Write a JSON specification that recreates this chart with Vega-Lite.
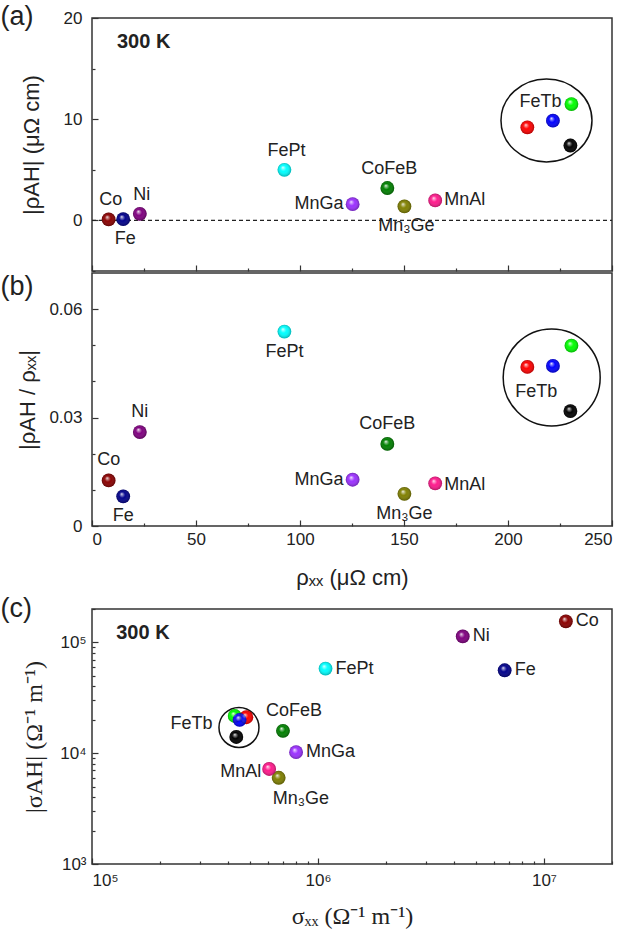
{
  "$schema": "https://vega.github.io/schema/vega-lite/v6.json",
  "background": "white",
  "padding": {"left": -1, "top": 2, "right": 5, "bottom": 5},
  "config": {
    "view": {"stroke": "#333", "strokeWidth": 1.5},
    "font": "Liberation Sans",
    "axis": {"domain": false, "grid": false, "labelFont": "Liberation Sans", "labelFontSize": 17, "labelColor": "#222", "tickColor": "#333", "tickWidth": 1.2, "titleFont": "Liberation Sans", "titleFontSize": 22, "titleFontWeight": "normal", "titleColor": "#222"},
    "text": {"font": "Liberation Sans", "fontSize": 18, "color": "#222"}
  },
  "datasets": {
    "mat": [
      {"name": "Co", "variant": "Co", "rxx": 8, "rah": 0.1, "ratio": 0.0126, "sxx": 12500000, "sah": 155000},
      {"name": "Fe", "variant": "Fe", "rxx": 15, "rah": 0.12, "ratio": 0.0082, "sxx": 6700000, "sah": 56000},
      {"name": "Ni", "variant": "Ni", "rxx": 23, "rah": 0.65, "ratio": 0.026, "sxx": 4370000, "sah": 113000},
      {"name": "FePt", "variant": "FePt", "rxx": 92.5, "rah": 5.0, "ratio": 0.0538, "sxx": 1080000, "sah": 58000},
      {"name": "MnGa", "variant": "MnGa", "rxx": 125.3, "rah": 1.6, "ratio": 0.0128, "sxx": 800000, "sah": 10200},
      {"name": "CoFeB", "variant": "CoFeB", "rxx": 142, "rah": 3.2, "ratio": 0.0227, "sxx": 700000, "sah": 15900},
      {"name": "Mn₃Ge", "variant": "Mn3Ge", "rxx": 150.2, "rah": 1.38, "ratio": 0.0089, "sxx": 670000, "sah": 6000},
      {"name": "MnAl", "variant": "MnAl", "rxx": 165, "rah": 1.97, "ratio": 0.0118, "sxx": 608000, "sah": 7200},
      {"name": "FeTb", "variant": "FeTb green", "rxx": 230.5, "rah": 11.5, "ratio": 0.0499, "sxx": 428000, "sah": 21700},
      {"name": "FeTb", "variant": "FeTb red", "rxx": 209.3, "rah": 9.2, "ratio": 0.044, "sxx": 482000, "sah": 21100},
      {"name": "FeTb", "variant": "FeTb blue", "rxx": 221.6, "rah": 9.85, "ratio": 0.0443, "sxx": 450000, "sah": 20000},
      {"name": "FeTb", "variant": "FeTb black", "rxx": 230, "rah": 7.4, "ratio": 0.0318, "sxx": 435000, "sah": 14000}
    ]
  },
  "spacing": 5,
  "vconcat": [
    {
      "bounds": "flush",
      "spacing": 2,
      "vconcat": [
        {
          "width": 520,
          "height": 253,
          "data": {"name": "mat"},
          "encoding": {
            "x": {"field": "rxx", "type": "quantitative", "scale": {"domain": [0, 250], "nice": false, "zero": false},
              "axis": {"values": [0, 25, 50, 75, 100, 125, 150, 175, 200, 225, 250], "labels": false, "title": null,
                "tickSize": {"condition": {"test": "datum.value % 50 === 0", "value": -6}, "value": -3}}},
            "y": {"field": "rah", "type": "quantitative", "scale": {"domain": [-5, 20], "nice": false, "zero": false},
              "axis": {"values": [-5, 0, 5, 10, 15, 20], "labelExpr": "datum.value % 10 === 0 ? datum.label : ''", "title": "|ρAH|  (μΩ cm)", "titlePadding": 20, "labelPadding": 16,
                "tickSize": {"condition": {"test": "datum.value % 10 === 0", "value": -6}, "value": -3}}}
          },
          "layer": [
            {"transform": [{"filter": "datum.variant === 'Co'"}], "mark": {"type": "rule", "strokeDash": [4, 3], "color": "#222", "strokeWidth": 1.2}, "encoding": {"x": {"datum": 0}, "x2": {"datum": 250}, "y": {"datum": 0}}},
            {"transform": [{"filter": "datum.variant === 'Co'"}], "mark": {"type": "point", "shape": "M-1,0A1,0.912,0,1,1,1,0A1,0.912,0,1,1,-1,0Z", "size": 8281, "filled": false, "stroke": "#111", "strokeWidth": 1.5, "opacity": 1},
              "encoding": {"x": {"datum": 218.5}, "y": {"datum": 9.88}}},
            {"mark": {"type": "point", "filled": true, "size": 190, "opacity": 1, "strokeWidth": 0},
              "encoding": {"color": {"field": "variant", "type": "nominal", "legend": null,
                "scale": {"domain": ["Co", "Fe", "Ni", "FePt", "MnGa", "CoFeB", "Mn3Ge", "MnAl", "FeTb green", "FeTb red", "FeTb blue", "FeTb black"],
                  "range": ["#8b0000", "#00008b", "#800080", "#00ffff", "#9b30ff", "#008000", "#808000", "#ff1a8c", "#00ff00", "#ff0000", "#0000ff", "#000000"]}}}},
            {"mark": {"type": "point", "filled": true, "size": 190, "opacity": 1, "strokeWidth": 0,
              "fill": {"gradient": "radial", "x1": 0.38, "y1": 0.32, "r1": 0, "x2": 0.5, "y2": 0.5, "r2": 0.5,
                "stops": [{"offset": 0, "color": "rgba(255,255,255,0.95)"}, {"offset": 0.18, "color": "rgba(255,255,255,0.5)"}, {"offset": 0.45, "color": "rgba(255,255,255,0)"}, {"offset": 1, "color": "rgba(0,0,0,0.3)"}]}}},
            {"transform": [{"filter": {"field": "name", "oneOf": ["Co", "Ni", "FePt", "CoFeB"]}}], "mark": {"type": "text", "align": "center", "baseline": "middle", "dy": -19, "dx": 2}, "encoding": {"text": {"field": "name"}}},
            {"transform": [{"filter": {"field": "name", "oneOf": ["Fe", "Mn₃Ge"]}}], "mark": {"type": "text", "align": "center", "baseline": "middle", "dy": 20, "dx": 2}, "encoding": {"text": {"field": "name"}}},
            {"transform": [{"filter": {"field": "name", "oneOf": ["MnGa"]}}], "mark": {"type": "text", "align": "right", "baseline": "middle", "dx": -9}, "encoding": {"text": {"field": "name"}}},
            {"transform": [{"filter": {"field": "name", "oneOf": ["MnAl"]}}], "mark": {"type": "text", "align": "left", "baseline": "middle", "dx": 9}, "encoding": {"text": {"field": "name"}}},
            {"transform": [{"filter": {"field": "variant", "equal": "FeTb green"}}], "mark": {"type": "text", "align": "right", "baseline": "middle", "dx": -10, "dy": -2}, "encoding": {"text": {"field": "name"}}},
            {"transform": [{"filter": "datum.variant === 'Co'"}], "mark": {"type": "text", "align": "left", "baseline": "middle", "fontSize": 20, "fontWeight": "bold"}, "encoding": {"x": {"datum": 12}, "y": {"datum": 17.6}, "text": {"value": "300 K"}}},
            {"transform": [{"filter": "datum.variant === 'Co'"}], "mark": {"type": "text", "align": "left", "baseline": "middle", "fontSize": 27}, "encoding": {"x": {"datum": -44}, "y": {"datum": 20.1}, "text": {"value": "(a)"}}}
          ]
        },
        {
          "width": 520,
          "height": 253,
          "data": {"name": "mat"},
          "encoding": {
            "x": {"field": "rxx", "type": "quantitative", "scale": {"domain": [0, 250], "nice": false, "zero": false},
              "axis": {"values": [0, 25, 50, 75, 100, 125, 150, 175, 200, 225, 250], "labelExpr": "datum.value % 50 === 0 ? datum.label : ''", "title": "ρₓₓ (μΩ cm)", "labelPadding": 11, "titlePadding": 20,
                "tickSize": {"condition": {"test": "datum.value % 50 === 0", "value": -6}, "value": -3}}},
            "y": {"field": "ratio", "type": "quantitative", "scale": {"domain": [0, 0.07], "nice": false, "zero": false},
              "axis": {"values": [0, 0.01, 0.02, 0.03, 0.04, 0.05, 0.06], "labelExpr": "datum.value === 0 ? '0' : (abs(datum.value - 0.03) < 1e-9 || abs(datum.value - 0.06) < 1e-9) ? format(datum.value, '.2f') : ''", "title": "|ρAH / ρₓₓ|", "titlePadding": 9, "labelPadding": 16,
                "tickSize": {"condition": {"test": "datum.value === 0 || abs(datum.value - 0.03) < 1e-9 || abs(datum.value - 0.06) < 1e-9", "value": -6}, "value": -3}}}
          },
          "layer": [
            {"transform": [{"filter": "datum.variant === 'Co'"}], "mark": {"type": "point", "shape": "circle", "size": 9409, "filled": false, "stroke": "#111", "strokeWidth": 1.5, "opacity": 1},
              "encoding": {"x": {"datum": 221}, "y": {"datum": 0.0411}}},
            {"mark": {"type": "point", "filled": true, "size": 190, "opacity": 1, "strokeWidth": 0},
              "encoding": {"color": {"field": "variant", "type": "nominal", "legend": null}}},
            {"mark": {"type": "point", "filled": true, "size": 190, "opacity": 1, "strokeWidth": 0,
              "fill": {"gradient": "radial", "x1": 0.38, "y1": 0.32, "r1": 0, "x2": 0.5, "y2": 0.5, "r2": 0.5,
                "stops": [{"offset": 0, "color": "rgba(255,255,255,0.95)"}, {"offset": 0.18, "color": "rgba(255,255,255,0.5)"}, {"offset": 0.45, "color": "rgba(255,255,255,0)"}, {"offset": 1, "color": "rgba(0,0,0,0.3)"}]}}},
            {"transform": [{"filter": {"field": "name", "oneOf": ["Ni", "Co", "CoFeB"]}}], "mark": {"type": "text", "align": "center", "baseline": "middle", "dy": -20}, "encoding": {"text": {"field": "name"}}},
            {"transform": [{"filter": {"field": "name", "oneOf": ["FePt", "Fe", "Mn₃Ge"]}}], "mark": {"type": "text", "align": "center", "baseline": "middle", "dy": 20}, "encoding": {"text": {"field": "name"}}},
            {"transform": [{"filter": {"field": "name", "oneOf": ["MnGa"]}}], "mark": {"type": "text", "align": "right", "baseline": "middle", "dx": -9}, "encoding": {"text": {"field": "name"}}},
            {"transform": [{"filter": {"field": "name", "oneOf": ["MnAl"]}}], "mark": {"type": "text", "align": "left", "baseline": "middle", "dx": 9, "dy": 2}, "encoding": {"text": {"field": "name"}}},
            {"transform": [{"filter": {"field": "variant", "equal": "FeTb red"}}], "mark": {"type": "text", "align": "center", "baseline": "middle", "dx": 9, "dy": 25}, "encoding": {"text": {"field": "name"}}},
            {"transform": [{"filter": "datum.variant === 'Co'"}], "mark": {"type": "text", "align": "left", "baseline": "middle", "fontSize": 27}, "encoding": {"x": {"datum": -44}, "y": {"datum": 0.066}, "text": {"value": "(b)"}}}
          ]
        }
      ]
    },
    {
      "width": 520,
      "height": 255,
      "data": {"name": "mat"},
      "encoding": {
        "x": {"field": "sxx", "type": "quantitative", "scale": {"type": "log", "domain": [100000, 20000000], "nice": false},
          "axis": {"values": [100000, 200000, 300000, 400000, 500000, 600000, 700000, 800000, 900000, 1000000, 2000000, 3000000, 4000000, 5000000, 6000000, 7000000, 8000000, 9000000, 10000000, 20000000],
            "labelExpr": "datum.value === 100000 ? '10⁵' : datum.value === 1000000 ? '10⁶' : datum.value === 10000000 ? '10⁷' : ''", "title": "σₓₓ  (Ω⁻¹ m⁻¹)", "titleFont": "Liberation Serif", "titleFontSize": 24, "labelPadding": 14, "titlePadding": 16,
            "tickSize": {"condition": {"test": "datum.value === 100000 || datum.value === 1000000 || datum.value === 10000000", "value": -6}, "value": -3}}},
        "y": {"field": "sah", "type": "quantitative", "scale": {"type": "log", "domain": [1000, 200000], "nice": false},
          "axis": {"values": [1000, 2000, 3000, 4000, 5000, 6000, 7000, 8000, 9000, 10000, 20000, 30000, 40000, 50000, 60000, 70000, 80000, 90000, 100000, 200000],
            "labelExpr": "datum.value === 1000 ? '10³' : datum.value === 10000 ? '10⁴' : datum.value === 100000 ? '10⁵' : ''", "title": "|σAH|  (Ω⁻¹ m⁻¹)", "titleFont": "Liberation Serif", "titleFontSize": 24, "titlePadding": 13, "labelPadding": 12,
            "tickSize": {"condition": {"test": "datum.value === 1000 || datum.value === 10000 || datum.value === 100000", "value": -6}, "value": -3}}}
      },
      "layer": [
        {"transform": [{"filter": "datum.variant === 'Co'"}], "mark": {"type": "point", "shape": "circle", "size": 1600, "filled": false, "stroke": "#111", "strokeWidth": 1.5, "opacity": 1},
          "encoding": {"x": {"datum": 447000}, "y": {"datum": 17060}}},
        {"mark": {"type": "point", "filled": true, "size": 190, "opacity": 1, "strokeWidth": 0},
          "encoding": {"color": {"field": "variant", "type": "nominal", "legend": null}}},
        {"mark": {"type": "point", "filled": true, "size": 190, "opacity": 1, "strokeWidth": 0,
          "fill": {"gradient": "radial", "x1": 0.38, "y1": 0.32, "r1": 0, "x2": 0.5, "y2": 0.5, "r2": 0.5,
            "stops": [{"offset": 0, "color": "rgba(255,255,255,0.95)"}, {"offset": 0.18, "color": "rgba(255,255,255,0.5)"}, {"offset": 0.45, "color": "rgba(255,255,255,0)"}, {"offset": 1, "color": "rgba(0,0,0,0.3)"}]}}},
        {"transform": [{"filter": {"field": "name", "oneOf": ["Co", "Ni", "Fe", "FePt", "MnGa"]}}], "mark": {"type": "text", "align": "left", "baseline": "middle", "dx": 10}, "encoding": {"text": {"field": "name"}}},
        {"transform": [{"filter": {"field": "name", "oneOf": ["CoFeB"]}}], "mark": {"type": "text", "align": "center", "baseline": "middle", "dx": 11, "dy": -20}, "encoding": {"text": {"field": "name"}}},
        {"transform": [{"filter": {"field": "name", "oneOf": ["MnAl"]}}], "mark": {"type": "text", "align": "right", "baseline": "middle", "dx": -8, "dy": 3}, "encoding": {"text": {"field": "name"}}},
        {"transform": [{"filter": {"field": "name", "oneOf": ["Mn₃Ge"]}}], "mark": {"type": "text", "align": "left", "baseline": "middle", "dx": -6, "dy": 21}, "encoding": {"text": {"field": "name"}}},
        {"transform": [{"filter": {"field": "variant", "equal": "FeTb blue"}}], "mark": {"type": "text", "align": "right", "baseline": "middle", "dx": -27, "dy": 4}, "encoding": {"text": {"field": "name"}}},
        {"transform": [{"filter": "datum.variant === 'Co'"}], "mark": {"type": "text", "align": "left", "baseline": "middle", "fontSize": 20, "fontWeight": "bold"}, "encoding": {"x": {"datum": 128000}, "y": {"datum": 122000}, "text": {"value": "300 K"}}},
        {"transform": [{"filter": "datum.variant === 'Co'"}], "mark": {"type": "text", "align": "left", "baseline": "middle", "fontSize": 27}, "encoding": {"x": {"datum": 39400}, "y": {"datum": 200000}, "text": {"value": "(c)"}}}
      ]
    }
  ]
}
